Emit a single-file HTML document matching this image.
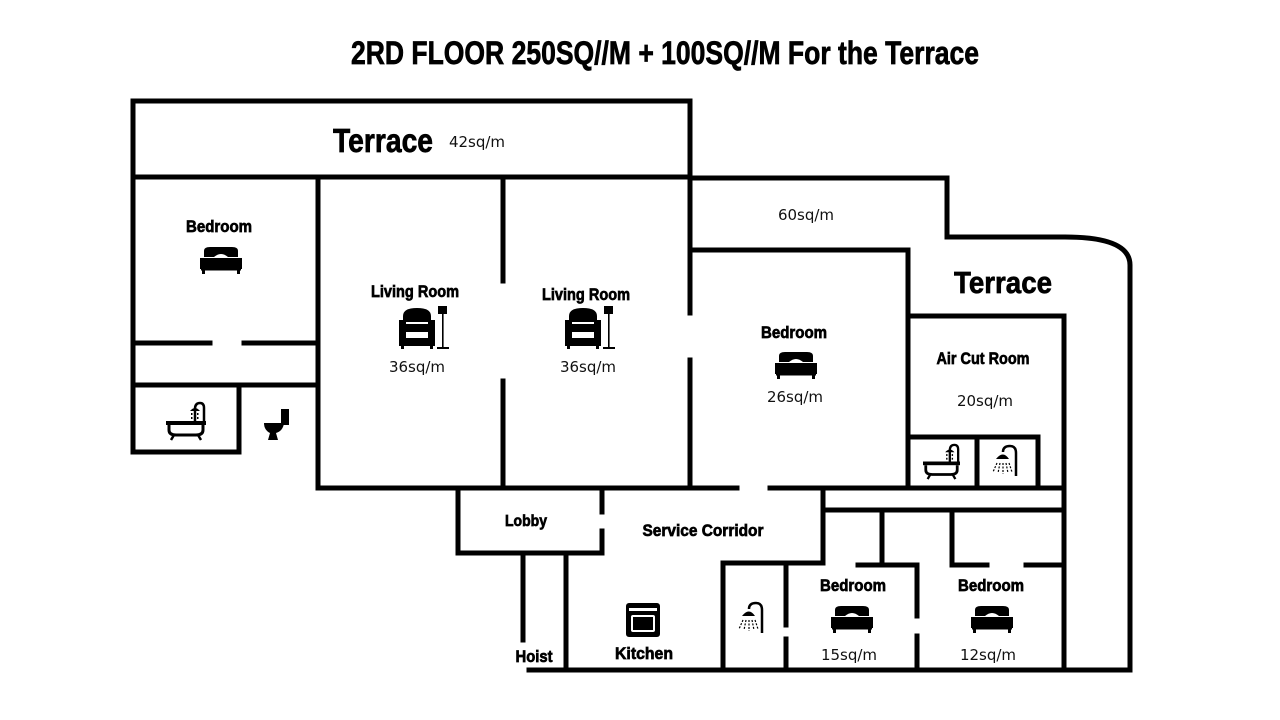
<!DOCTYPE html>
<html><head><meta charset="utf-8"><style>
html,body{margin:0;padding:0;background:#fff;}
svg{display:block}
.b{font-family:"Liberation Sans Narrow","Liberation Sans",sans-serif;font-weight:bold;fill:#000;stroke:#000;stroke-width:0.7;text-anchor:middle}
.n{font-family:"DejaVu Sans","Liberation Sans",sans-serif;fill:#111;text-anchor:middle;font-size:15px}
</style></head><body>
<svg width="1280" height="720" viewBox="0 0 1280 720" xmlns="http://www.w3.org/2000/svg">
<defs>
<symbol id="bed" viewBox="0 0 42 28">
<path d="M4 11 V5 Q4 1 10 1 L32 1 Q38 1 38 5 V11 Z" fill="#000"/>
<path d="M14 11 Q21 5 28 11 Z" fill="#fff"/>
<rect x="0" y="12" width="42" height="11" fill="#000"/>
<rect x="1" y="23" width="40" height="1.5" fill="#000"/>
<rect x="2" y="23" width="3" height="5" fill="#000"/>
<rect x="37" y="23" width="3" height="5" fill="#000"/>
</symbol>
<symbol id="chair" viewBox="0 0 52 46">
<path d="M4 10 Q4 2 18 2 Q32 2 32 10 V16 H4 Z" fill="#000"/>
<rect x="0" y="14" width="7" height="26" fill="#000"/>
<rect x="29" y="14" width="7" height="26" fill="#000"/>
<rect x="0" y="32" width="36" height="8" fill="#000"/>
<rect x="7" y="18" width="22" height="8" fill="#000"/>
<rect x="2" y="40" width="3" height="3" fill="#000"/>
<rect x="31" y="40" width="3" height="3" fill="#000"/>
<rect x="39" y="0" width="9" height="8" fill="#000"/>
<rect x="43" y="8" width="1.6" height="34" fill="#000"/>
<rect x="38" y="41" width="12" height="2" fill="#000"/>
</symbol>
<symbol id="bath" viewBox="0 0 40 40">
<path d="M29 20 V8 Q29 2 34 2 Q38 2 38 7 V21" fill="none" stroke="#000" stroke-width="2.5"/>
<path d="M24 10 Q29 4 34 10 Z" fill="#000"/>
<g fill="#000"><rect x="25" y="12" width="1.5" height="2"/><rect x="28" y="12" width="1.5" height="2"/><rect x="31" y="12" width="1.5" height="2"/><rect x="25" y="16" width="1.5" height="2"/><rect x="28" y="16" width="1.5" height="2"/><rect x="31" y="16" width="1.5" height="2"/></g>
<rect x="0" y="20" width="40" height="4" fill="#000"/>
<path d="M3 24 V29 Q3 34 10 34 H30 Q37 34 37 29 V24" fill="none" stroke="#000" stroke-width="3"/>
<path d="M8 34 L5 39 M32 34 L35 39" stroke="#000" stroke-width="2.5"/>
</symbol>
<symbol id="toilet" viewBox="0 0 26 32">
<rect x="17" y="0" width="8" height="16" fill="#000"/>
<path d="M0 14 H20 Q19 22 12 24 L14 31 H4 L6 24 Q0 21 0 14 Z" fill="#000"/>
</symbol>
<symbol id="shower" viewBox="0 0 30 34">
<path d="M14 8 Q14 2 21 2 Q27 2 27 9 V32" fill="none" stroke="#000" stroke-width="2.5"/>
<path d="M7 15 Q14 6 20 15 Z" fill="#000"/>
<path d="M8 19 L4 28 M11 19 L9 29 M14 19 L14 30 M17 19 L19 29 M20 19 L23 28" stroke="#000" stroke-width="1.2" stroke-dasharray="2 1.5"/>
</symbol>
<symbol id="stove" viewBox="0 0 34 36">
<rect x="0" y="0" width="34" height="34" rx="3" fill="#000"/>
<rect x="3" y="5" width="28" height="3" fill="#fff"/>
<rect x="5" y="12" width="24" height="17" rx="2" fill="#fff"/>
<rect x="7" y="14" width="20" height="13" fill="#000"/>
</symbol>
</defs>

<text class="b" x="665" y="64" font-size="32" stroke-width="1.4" textLength="628" lengthAdjust="spacingAndGlyphs">2RD FLOOR 250SQ//M + 100SQ//M For the Terrace</text>

<g stroke="#000" stroke-width="5" fill="none" stroke-linecap="square">
<path d="M133 101 H690 V313"/>
<path d="M690 360 V488"/>
<path d="M133 101 V452 H239 V385"/>
<path d="M133 177 H690"/>
<path d="M133 343 H210 M244 343 H318"/>
<path d="M133 385 H318"/>
<path d="M318 177 V488 H737"/>
<path d="M503 177 V281 M503 381 V488"/>
<path d="M690 178 H947 V237 H1065 Q1130 237 1130 265 V670"/>
<path d="M690 250 H908 V488"/>
<path d="M908 316 H1064 V670"/>
<path d="M908 437 H1038 V488 M977 437 V488"/>
<path d="M770 488 H1064"/>
<path d="M823 510 H1064 M823 488 V563 H723 V670"/>
<path d="M786 563 V625 M786 639 V670"/>
<path d="M858 565 H917 V616 M917 636 V670 M882 510 V565"/>
<path d="M952 510 V565 H987 M1026 565 H1064"/>
<path d="M458 488 V553 H602 V531 M602 488 V512"/>
<path d="M523 553 V640 M566 553 V670"/>
<path d="M529 670 H1130"/>
</g>

<text class="b" x="383" y="152" font-size="33" stroke-width="1.2" textLength="100" lengthAdjust="spacingAndGlyphs">Terrace</text>
<text class="n" x="477" y="147">42sq/m</text>
<text class="b" x="219" y="232" font-size="17" textLength="66" lengthAdjust="spacingAndGlyphs">Bedroom</text>
<use href="#bed" x="200" y="246" width="42" height="28"/>
<text class="b" x="415" y="297" font-size="17" textLength="88" lengthAdjust="spacingAndGlyphs">Living Room</text>
<use href="#chair" x="399" y="306" width="52" height="46"/>
<text class="n" x="417" y="372">36sq/m</text>
<text class="b" x="586" y="300" font-size="17" textLength="88" lengthAdjust="spacingAndGlyphs">Living Room</text>
<use href="#chair" x="565" y="306" width="52" height="46"/>
<text class="n" x="588" y="372">36sq/m</text>
<use href="#bath" x="166" y="401" width="40" height="40"/>
<use href="#toilet" x="264" y="409" width="26" height="32"/>
<text class="n" x="806" y="220">60sq/m</text>
<text class="b" x="1003" y="293" font-size="31" stroke-width="1.2" textLength="98" lengthAdjust="spacingAndGlyphs">Terrace</text>
<text class="b" x="794" y="338" font-size="17" textLength="66" lengthAdjust="spacingAndGlyphs">Bedroom</text>
<use href="#bed" x="775" y="351" width="42" height="28"/>
<text class="n" x="795" y="402">26sq/m</text>
<text class="b" x="983" y="364" font-size="17" textLength="93" lengthAdjust="spacingAndGlyphs">Air Cut Room</text>
<text class="n" x="985" y="406">20sq/m</text>
<use href="#bath" x="923" y="443" width="37" height="37"/>
<use href="#shower" x="989" y="444" width="30" height="34"/>
<text class="b" x="526" y="526" font-size="16" textLength="42" lengthAdjust="spacingAndGlyphs">Lobby</text>
<text class="b" x="703" y="536" font-size="17" textLength="121" lengthAdjust="spacingAndGlyphs">Service Corridor</text>
<use href="#stove" x="626" y="603" width="34" height="36"/>
<text class="b" x="534" y="662" font-size="17" textLength="37" lengthAdjust="spacingAndGlyphs">Hoist</text>
<text class="b" x="644" y="659" font-size="17" textLength="58" lengthAdjust="spacingAndGlyphs">Kitchen</text>
<use href="#shower" x="735" y="601" width="30" height="34"/>
<text class="b" x="853" y="591" font-size="17" textLength="66" lengthAdjust="spacingAndGlyphs">Bedroom</text>
<use href="#bed" x="831" y="605" width="42" height="28"/>
<text class="n" x="849" y="660">15sq/m</text>
<text class="b" x="991" y="591" font-size="17" textLength="66" lengthAdjust="spacingAndGlyphs">Bedroom</text>
<use href="#bed" x="971" y="605" width="42" height="28"/>
<text class="n" x="988" y="660">12sq/m</text>
</svg>
</body></html>
